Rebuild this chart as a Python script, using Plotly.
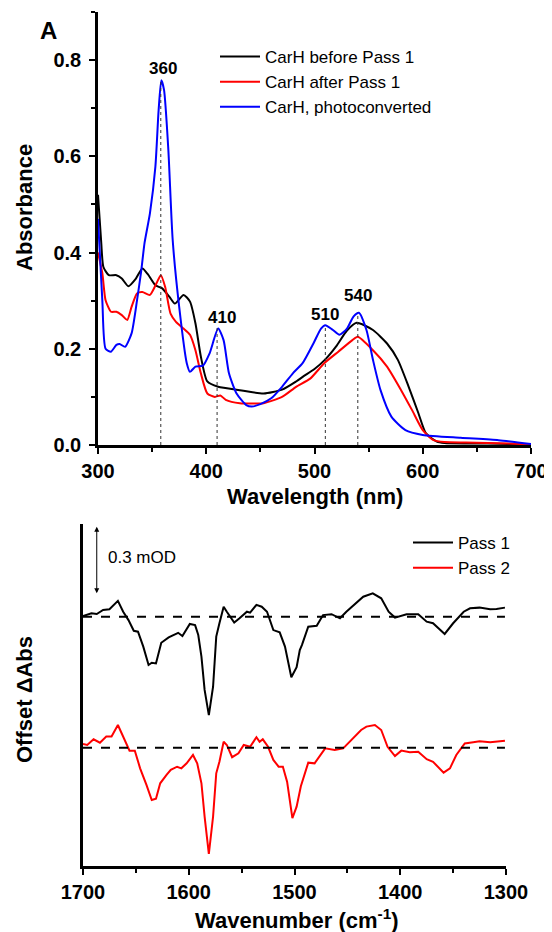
import plotly.graph_objects as go

# ---------------- Panel A data (UV-Vis) ----------------
wl_before = [300, 303, 305, 310, 317, 322, 328, 335, 341, 346, 353, 359, 366, 371, 379, 385, 390, 395,
             401, 411, 431, 453, 470, 483, 490, 500, 510, 520, 530, 539, 554, 567, 577, 587, 596, 603,
             613, 620, 640, 660, 680, 700]
abs_before = [0.52, 0.42, 0.37, 0.353, 0.353, 0.346, 0.330, 0.346, 0.367, 0.355, 0.332, 0.326, 0.308,
              0.294, 0.312, 0.298, 0.253, 0.184, 0.132, 0.121, 0.114, 0.107, 0.115, 0.132, 0.143, 0.158,
              0.178, 0.205, 0.238, 0.254, 0.239, 0.211, 0.177, 0.121, 0.066, 0.024, 0.007, 0.004,
              0.003, 0.003, 0.002, 0.0]

wl_after = [300, 304, 307, 312, 317, 322, 327, 331, 336, 341, 348, 354, 358, 362, 367, 372, 379, 385,
            390, 395, 401, 408, 413, 418, 431, 453, 470, 483, 496, 509, 522, 535, 540, 554, 567, 580,
            590, 600, 610, 620, 640, 660, 680, 700]
abs_after = [0.40, 0.357, 0.301, 0.277, 0.277, 0.270, 0.260, 0.287, 0.315, 0.318, 0.312, 0.336, 0.353,
             0.329, 0.273, 0.256, 0.242, 0.229, 0.197, 0.149, 0.107, 0.100, 0.103, 0.094, 0.087, 0.087,
             0.100, 0.121, 0.138, 0.170, 0.194, 0.218, 0.225, 0.197, 0.163, 0.114, 0.073, 0.031, 0.010,
             0.006, 0.005, 0.004, 0.003, 0.001]

wl_photo = [300, 304, 307, 312, 317, 320, 325, 331, 336, 340, 343, 348, 353, 356, 358.5, 361, 365, 369,
            375, 382, 385, 390, 397, 403, 411, 416, 421, 428, 437, 442, 450, 460, 470, 480, 489, 499,
            506, 510, 517, 523, 530, 536, 541, 548, 554, 561, 571, 584, 600, 635, 670, 700]
abs_photo = [0.47, 0.30, 0.20, 0.194, 0.208, 0.210, 0.204, 0.232, 0.300, 0.363, 0.420, 0.482, 0.578,
             0.696, 0.758, 0.738, 0.613, 0.426, 0.287, 0.170, 0.152, 0.163, 0.165, 0.190, 0.242, 0.218,
             0.149, 0.107, 0.083, 0.080, 0.085, 0.097, 0.121, 0.149, 0.170, 0.211, 0.242, 0.249, 0.239,
             0.229, 0.242, 0.267, 0.275, 0.239, 0.177, 0.114, 0.059, 0.031, 0.021, 0.015, 0.010, 0.002]

peak_nm = [358, 410, 510, 540]
peak_abs = [0.758, 0.244, 0.249, 0.275]
peak_labels = ["360", "410", "510", "540"]

# ---------------- Panel B data (resonance Raman difference) ----------------
wn_pass1 = [1700, 1692, 1687, 1681, 1675, 1667, 1662, 1657, 1652, 1648, 1643, 1638, 1635, 1631, 1626,
            1619, 1610, 1606, 1599, 1594, 1591, 1588, 1585, 1581, 1577, 1574, 1571, 1567, 1564, 1557,
            1552, 1545, 1542, 1536, 1531, 1526, 1520, 1514, 1509, 1503, 1498, 1495, 1493, 1487, 1479,
            1473, 1465, 1457, 1451, 1435, 1426, 1418, 1411, 1405, 1394, 1383, 1375, 1369, 1358, 1350,
            1340, 1334, 1325, 1315, 1309, 1301]
d_pass1 = [0.003, 0.015, 0.012, 0.030, 0.033, 0.070, 0.022, -0.015, -0.062, -0.066, -0.132, -0.213,
           -0.203, -0.206, -0.115, -0.091, -0.071, -0.085, -0.032, -0.037, -0.081, -0.176, -0.323,
           -0.434, -0.309, -0.088, -0.029, 0.044, 0.022, -0.026, -0.007, 0.022, 0.018, 0.052, 0.044,
           0.022, -0.059, -0.069, -0.132, -0.267, -0.223, -0.147, -0.125, -0.044, -0.040, 0.007, 0.011,
           -0.007, 0.022, 0.088, 0.103, 0.081, 0.022, -0.004, 0.011, 0.011, -0.022, -0.029, -0.076,
           -0.029, 0.022, 0.037, 0.040, 0.033, 0.034, 0.040]

wn_pass2 = [1700, 1696, 1690, 1684, 1678, 1673, 1667, 1662, 1656, 1651, 1646, 1640, 1635, 1631, 1627,
            1621, 1617, 1611, 1607, 1602, 1596, 1592, 1588, 1585, 1581, 1577, 1574, 1571, 1567, 1564,
            1559, 1553, 1548, 1542, 1536, 1533, 1530, 1525, 1520, 1515, 1511, 1507, 1502, 1498, 1494,
            1487, 1481, 1471, 1462, 1454, 1446, 1437, 1432, 1424, 1418, 1412, 1405, 1399, 1391, 1383,
            1375, 1369, 1359, 1353, 1347, 1339, 1331, 1325, 1315, 1309, 1301]
d_pass2 = [0.016, 0.012, 0.037, 0.022, 0.049, 0.049, 0.100, 0.046, -0.013, -0.013, -0.091, -0.164,
           -0.231, -0.225, -0.157, -0.120, -0.098, -0.084, -0.091, -0.069, -0.032, -0.069, -0.157,
           -0.304, -0.469, -0.304, -0.113, -0.062, 0.026, 0.012, -0.042, -0.025, 0.012, 0.004, 0.046,
           0.026, 0.037, 0.004, -0.054, -0.084, -0.084, -0.150, -0.311, -0.260, -0.170, -0.066, -0.069,
           -0.003, -0.010, -0.003, 0.034, 0.078, 0.093, 0.100, 0.078, 0.004, -0.037, -0.013, -0.020,
           -0.018, -0.051, -0.062, -0.110, -0.091, -0.032, 0.019, 0.024, 0.028, 0.024, 0.026, 0.031]

offset_pass1 = 0.0
offset_pass2 = -0.578
scale_bar_mOD = 0.3

FONT = "Liberation Sans, Arial, sans-serif"

# page has an 8px body margin: map screenshot pixels to paper coordinates
W, H, M = 544, 924, 8


def PX(px):
    return (px - M) / W


def PY(py):
    return 1 - (py - M) / H


fig = go.Figure()

# Panel A traces
fig.add_trace(go.Scatter(x=wl_before, y=abs_before, mode="lines", name="CarH before Pass 1",
                         line=dict(color="black", width=2, shape="spline", smoothing=0.6),
                         xaxis="x", yaxis="y", legend="legend"))
fig.add_trace(go.Scatter(x=wl_after, y=abs_after, mode="lines", name="CarH after Pass 1",
                         line=dict(color="#ff0000", width=2, shape="spline", smoothing=0.6),
                         xaxis="x", yaxis="y", legend="legend"))
fig.add_trace(go.Scatter(x=wl_photo, y=abs_photo, mode="lines", name="CarH, photoconverted",
                         line=dict(color="#0000ff", width=2, shape="spline", smoothing=0.6),
                         xaxis="x", yaxis="y", legend="legend"))

# dotted drop lines at peaks
for xp, yp in zip(peak_nm, peak_abs):
    fig.add_trace(go.Scatter(x=[xp, xp], y=[0, yp], mode="lines", showlegend=False,
                             line=dict(color="#333333", width=1, dash="dot"),
                             xaxis="x", yaxis="y", hoverinfo="skip"))

# Panel B traces
fig.add_trace(go.Scatter(x=wn_pass1, y=[v + offset_pass1 for v in d_pass1], mode="lines", name="Pass 1",
                         line=dict(color="black", width=2), xaxis="x2", yaxis="y2", legend="legend2"))
fig.add_trace(go.Scatter(x=wn_pass2, y=[v + offset_pass2 for v in d_pass2], mode="lines", name="Pass 2",
                         line=dict(color="#ff0000", width=2), xaxis="x2", yaxis="y2", legend="legend2"))
for off in (offset_pass1, offset_pass2):
    fig.add_trace(go.Scatter(x=[wn_pass1[0], wn_pass1[-1]], y=[off, off], mode="lines", showlegend=False,
                             line=dict(color="black", width=2, dash="dash"),
                             xaxis="x2", yaxis="y2", hoverinfo="skip"))

tickfont = dict(family=FONT, size=20, color="black", weight="bold")
axis_common = dict(showline=True, linewidth=2.5, linecolor="black", ticks="outside", ticklen=6,
                   tickwidth=2, tickcolor="black", showgrid=False, zeroline=False, tickfont=tickfont,
                   automargin=False)

annotations = []
shifts = {"360": (2, 0), "410": (5, -1), "510": (0, -1), "540": (0, 6)}
for xp, yp, lab in zip(peak_nm, peak_abs, peak_labels):
    dx, dy = shifts[lab]
    annotations.append(dict(x=xp, y=yp, xref="x", yref="y", text=lab, showarrow=False,
                            xanchor="center", yanchor="bottom", xshift=dx, yshift=dy,
                            font=dict(family=FONT, size=17, color="black", weight="bold")))

title_font = dict(family=FONT, size=22, color="black", weight="bold")
annotations += [
    dict(x=PX(48), y=PY(30), xref="paper", yref="paper", text="A", showarrow=False,
         xanchor="center", yanchor="middle",
         font=dict(family=FONT, size=24, color="black", weight="bold")),
    dict(x=PX(24), y=PY(208), xref="paper", yref="paper", text="Absorbance", showarrow=False,
         xanchor="center", yanchor="middle", textangle=-90, font=title_font),
    dict(x=PX(315), y=PY(496), xref="paper", yref="paper", text="Wavelength (nm)", showarrow=False,
         xanchor="center", yanchor="middle", font=title_font),
    dict(x=PX(24), y=PY(700), xref="paper", yref="paper", text="Offset ΔAbs", showarrow=False,
         xanchor="center", yanchor="middle", textangle=-90, font=title_font),
    dict(x=PX(297), y=PY(919), xref="paper", yref="paper",
         text="Wavenumber (cm<sup>-1</sup>)", showarrow=False,
         xanchor="center", yanchor="middle", font=title_font),
    # scale bar arrow
    dict(x=1687, y=0.104, xref="x2", yref="y2", ax=1687, ay=0.104 + scale_bar_mOD, axref="x2", ayref="y2",
         text="", showarrow=True, arrowhead=2, arrowside="end+start", arrowsize=1, arrowwidth=1,
         arrowcolor="black"),
    dict(x=1678, y=0.263, xref="x2", yref="y2", text=f"{scale_bar_mOD} mOD", showarrow=False,
         xanchor="left", yanchor="middle", font=dict(family=FONT, size=17, color="black")),
]

minor_style = dict(ticklen=4, tickwidth=2, ticks="outside", tickcolor="black")

fig.update_layout(
    width=W, height=H, margin=dict(l=0, r=0, t=0, b=0, autoexpand=False),
    paper_bgcolor="white", plot_bgcolor="white",
    showlegend=True,
    xaxis=dict(domain=[PX(98), PX(531)], range=[300, 700], dtick=100, anchor="y",
               ticklabelstandoff=0, minor=dict(dtick=50, **minor_style), **axis_common),
    yaxis=dict(domain=[PY(445), PY(12)], range=[0, 0.9], tickvals=[0, 0.2, 0.4, 0.6, 0.8],
               tickformat=".1f", anchor="x", ticklabelstandoff=4,
               minor=dict(dtick=0.1, **minor_style), **axis_common),
    xaxis2=dict(domain=[PX(83), PX(506)], range=[1700, 1300], dtick=100, anchor="y2",
                ticklabelstandoff=0, minor=dict(dtick=50, **minor_style), **axis_common),
    yaxis2=dict(domain=[PY(866), PY(524)], range=[-1.10, 0.409], anchor="x2",
                showline=True, linewidth=2.5, linecolor="black", ticks="", showticklabels=False,
                showgrid=False, zeroline=False, automargin=False),
    legend=dict(x=PX(215), y=PY(39), xanchor="left", yanchor="top", bgcolor="rgba(0,0,0,0)",
                font=dict(family=FONT, size=17, color="black"), tracegroupgap=0, itemwidth=40),
    legend2=dict(x=PX(408), y=PY(525), xanchor="left", yanchor="top", bgcolor="rgba(0,0,0,0)",
                 font=dict(family=FONT, size=17, color="black"), tracegroupgap=0, itemwidth=40),
    annotations=annotations,
)

fig.write_html("out.html")
